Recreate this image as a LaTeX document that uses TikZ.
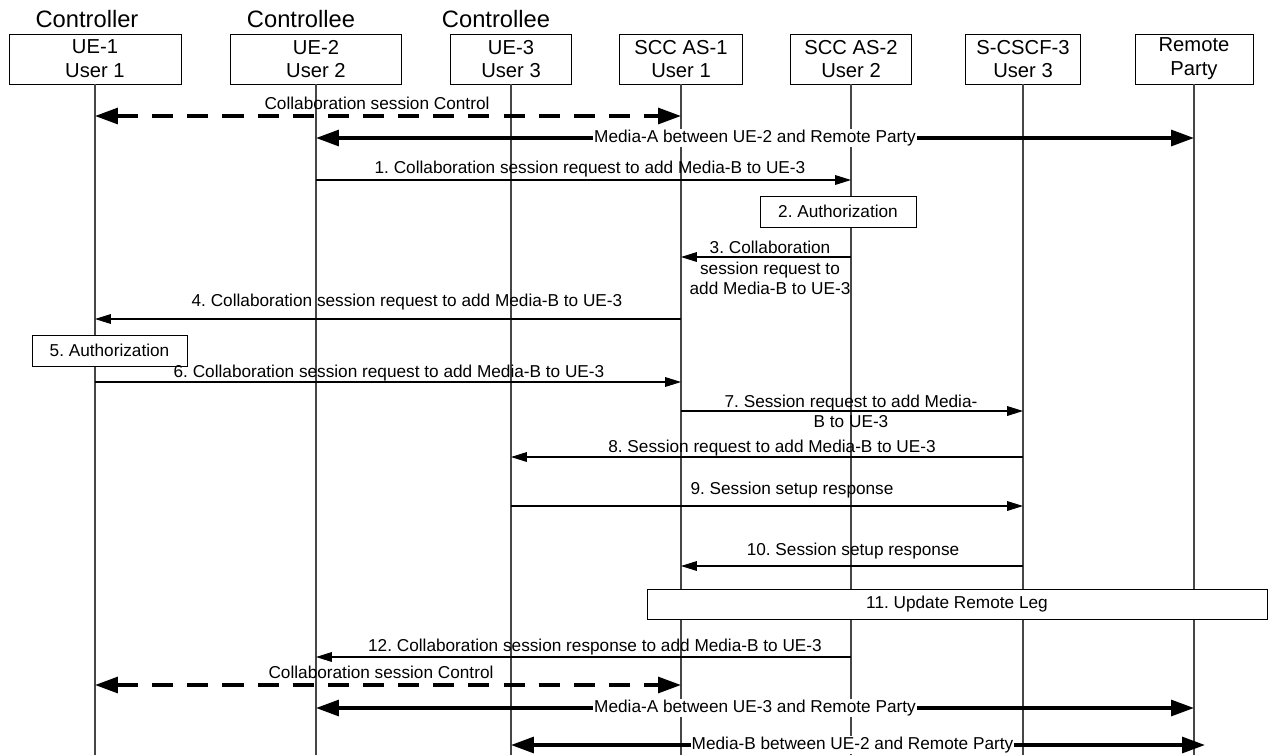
\documentclass[tikz,border=0pt]{standalone}
\usepackage{fontspec}
\setmainfont{Liberation Sans}
\usepackage{xcolor}
\usetikzlibrary{arrows.meta}
\frenchspacing
\definecolor{lifegray}{RGB}{70,70,70}
\tikzset{
  entity/.style={draw, thin, fill=white, align=center, inner sep=0pt,
                 minimum height=1cm, font=\fontsize{11.5}{13.6}\selectfont},
  role/.style={inner sep=0pt, font=\fontsize{13.5}{16}\selectfont},
  lifeline/.style={draw=lifegray, line width=0.6pt},
  msg/.style={-{Triangle[length=9pt,width=5.5pt]}, line width=0.6pt},
  media/.style={{Triangle[length=13pt,width=9pt]}-{Triangle[length=13pt,width=9pt]},
                line width=1.9pt},
  ctrl/.style={media, dash pattern=on 12pt off 8pt},
  lbl/.style={align=center, inner sep=0.5pt, font=\fontsize{9.8}{11.5}\selectfont},
  medialbl/.style={lbl, fill=white},
  action/.style={draw, thin, fill=white, align=center, inner sep=0pt,
                 minimum height=0.62cm, font=\fontsize{9.8}{11.5}\selectfont}
}

\begin{document}
\begin{tikzpicture}[x=0.02cm, y=-0.02cm]
  \useasboundingbox (0,0) rectangle (1268,755);
  % entities
  \node[entity, minimum width=3.44cm] (ue1) at (95,59) {UE-1\\User 1};
  \node[entity, minimum width=3.42cm] (ue2) at (316,59) {UE-2\\User 2};
  \node[entity, minimum width=2.42cm] (ue3) at (511,59) {UE-3\\User 3};
  \node[entity, minimum width=2.46cm] (as1) at (681,59) {SCC AS-1\\User 1};
  \node[entity, minimum width=2.42cm] (as2) at (851,59) {SCC AS-2\\User 2};
  \node[entity, minimum width=2.3cm] (cscf) at (1023,59) {S-CSCF-3\\User 3};
  \node[entity, minimum width=2.36cm] (rp) at (1194,59) {Remote\\Party};
  \node[role] (r1) at (87,19) {Controller};
  \node[role] (r2) at (301,19) {Controllee};
  \node[role] (r3) at (496,19) {Controllee};
  % lifelines
  \coordinate (bottom) at (0,755);
  \foreach \e in {ue1,ue2,ue3,as1,as2,cscf,rp}
    \draw[lifeline] (\e.south) -- (\e.south |- bottom);

  \draw[ctrl] (ue1 |- 0,116) -- (as1 |- 0,116);
  \node[lbl] (c1) at (377,103) {Collaboration session Control};
  \draw[media] (ue2 |- 0,138) -- (rp |- 0,138)
    node[medialbl, midway] (ma1) {Media-A between UE-2 and Remote Party};

  \draw[msg] (ue2 |- 0,180) -- (as2 |- 0,180);
  \node[lbl] (m1) at (590,169) {1. Collaboration session request to add Media-B to UE-3};
  \node[action, minimum width=3.12cm] (auth2) at (838,211.5) {2. Authorization};
  \draw[msg] (as2 |- 0,257) -- (as1 |- 0,257);
  \node[lbl] (m3) at (770,268) {3. Collaboration\\session request to\\add Media-B to UE-3};
  \draw[msg] (as1 |- 0,319) -- (ue1 |- 0,319);
  \node[lbl] (m4) at (407,302) {4. Collaboration session request to add Media-B to UE-3};
  \node[action, minimum width=3.1cm] (auth5) at (109.5,350.5) {5. Authorization};
  \draw[msg] (ue1 |- 0,382) -- (as1 |- 0,382);
  \node[lbl] (m6) at (389,373) {6. Collaboration session request to add Media-B to UE-3};
  \draw[msg] (as1 |- 0,411) -- (cscf |- 0,411);
  \node[lbl] (m7) at (851,411) {7. Session request to add Media-\\B to UE-3};
  \draw[msg] (cscf |- 0,457) -- (ue3 |- 0,457);
  \node[lbl] (m8) at (772,448) {8. Session request to add Media-B to UE-3};
  \draw[msg] (ue3 |- 0,506) -- (cscf |- 0,506);
  \node[lbl] (m9) at (792,490) {9. Session setup response};
  \draw[msg] (cscf |- 0,566) -- (as1 |- 0,566);
  \node[lbl] (m10) at (853,551) {10. Session setup response};
  \node[action, minimum width=12.4cm, minimum height=0.6cm] (upd) at (957,604) {11. Update Remote Leg};
  \draw[msg] (as2 |- 0,657) -- (ue2 |- 0,657);
  \node[lbl] (m12) at (595,647) {12. Collaboration session response to add Media-B to UE-3};

  \draw[ctrl] (ue1 |- 0,685) -- (as1 |- 0,685);
  \node[lbl] (c2) at (381,672) {Collaboration session Control};
  \draw[media] (ue2 |- 0,708) -- (rp |- 0,708)
    node[medialbl, midway] (ma2) {Media-A between UE-3 and Remote Party};
  \draw[media, shorten >=-0.22cm] (ue3 |- 0,745) -- (rp |- 0,745)
    node[medialbl, midway] (mb) {Media-B between UE-2 and Remote Party};
\end{tikzpicture}
\end{document}
